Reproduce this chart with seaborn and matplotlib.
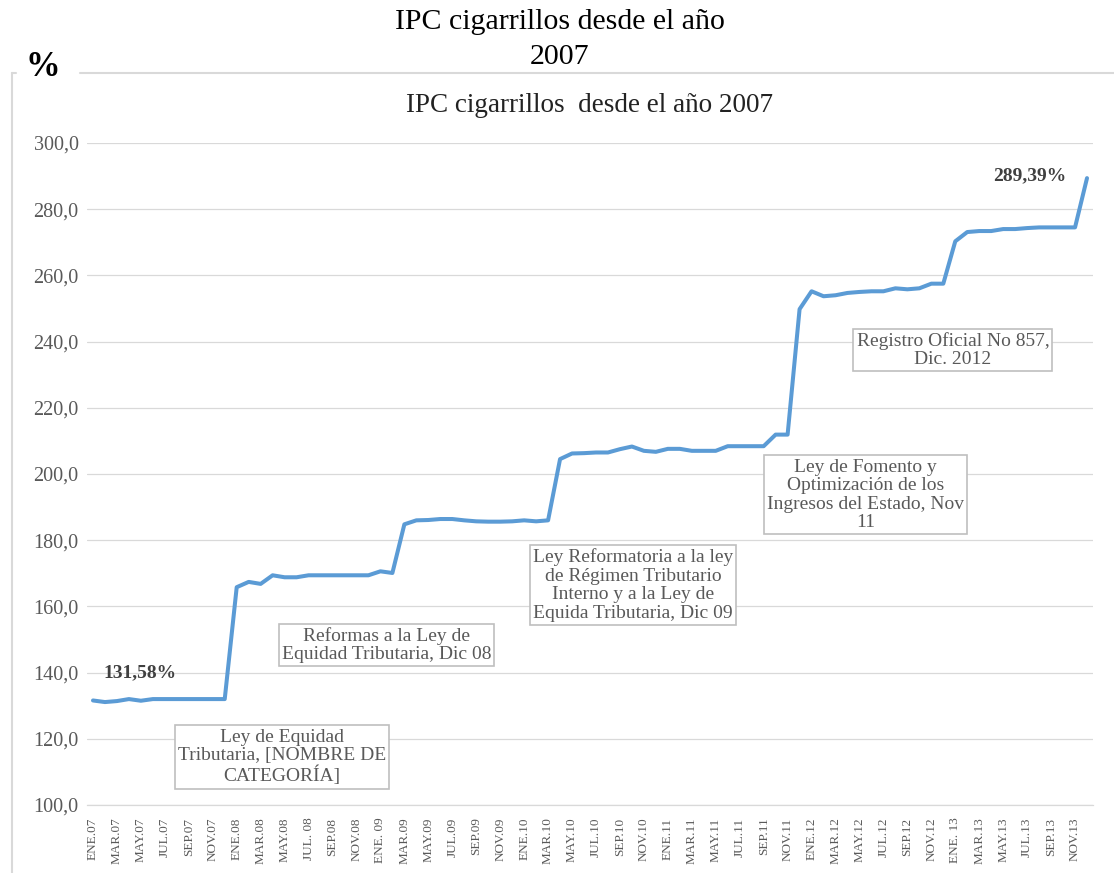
import numpy as np
import matplotlib
matplotlib.use("Agg")
import matplotlib.pyplot as plt
from matplotlib.lines import Line2D
import pandas as pd
import seaborn as sns

# IPC cigarrillos, mensual ENE.07 - DIC.13
ipc = [131.58, 131.1, 131.4, 132.0, 131.5, 132.0, 132.0, 132.0, 132.0, 132.0, 132.0, 132.0,
       165.8, 167.4, 166.8, 169.4, 168.8, 168.8, 169.4, 169.4, 169.4, 169.4, 169.4, 169.4,
       170.6, 170.1, 184.8, 186.0, 186.1, 186.4, 186.4, 186.0, 185.7, 185.6, 185.6, 185.7,
       186.0, 185.7, 186.0, 204.5, 206.2, 206.3, 206.5, 206.5, 207.5, 208.3, 207.0, 206.7,
       207.6, 207.6, 207.0, 207.0, 207.0, 208.4, 208.4, 208.4, 208.4, 211.9, 211.9, 249.8,
       255.2, 253.7, 254.0, 254.7, 255.0, 255.2, 255.2, 256.1, 255.8, 256.1, 257.5, 257.5,
       270.3, 273.1, 273.4, 273.4, 274.0, 274.0, 274.3, 274.5, 274.5, 274.5, 274.5, 289.39]

xlabels = ["ENE.07", "MAR.07", "MAY.07", "JUL.07", "SEP.07", "NOV.07",
           "ENE.08", "MAR.08", "MAY.08", "JUL. 08", "SEP.08", "NOV.08",
           "ENE. 09", "MAR.09", "MAY.09", "JUL.09", "SEP.09", "NOV.09",
           "ENE.10", "MAR.10", "MAY.10", "JUL.10", "SEP.10", "NOV.10",
           "ENE.11", "MAR.11", "MAY.11", "JUL.11", "SEP.11", "NOV.11",
           "ENE.12", "MAR.12", "MAY.12", "JUL.12", "SEP.12", "NOV.12",
           "ENE. 13", "MAR.13", "MAY.13", "JUL.13", "SEP.13", "NOV.13"]

yticks = [100, 120, 140, 160, 180, 200, 220, 240, 260, 280, 300]

# hitos tributarios (texto, mes, valor)
notas = ["Ley de Equidad\nTributaria, [NOMBRE DE\nCATEGORÍA]",
         "Reformas a la Ley de\nEquidad Tributaria, Dic 08",
         "Ley Reformatoria a la ley\nde Régimen Tributario\nInterno y a la Ley de\nEquida Tributaria, Dic 09",
         "Ley de Fomento y\nOptimización de los\nIngresos del Estado, Nov\n11",
         "Registro Oficial No 857,\nDic. 2012"]
notas_x = [15.8, 24.5, 45.1, 64.5, 71.8]
notas_y = [114.5, 148.3, 166.5, 193.7, 237.5]

df = pd.DataFrame({"mes": np.arange(len(ipc)), "ipc": ipc})

sns.set_style("white")
plt.rcParams["font.family"] = ["Liberation Serif", "DejaVu Serif"]

fig = plt.figure(figsize=(11.14, 8.73), dpi=100)
ax = fig.add_axes([87/1114, 1-805/873, (1093-87)/1114, (805-143)/873])

sns.lineplot(data=df, x="mes", y="ipc", ax=ax, color="#5B9BD5", linewidth=2.9)

ax.set_xlim(-0.5, len(ipc)-0.5)
ax.set_ylim(100, 300)
ax.set_yticks(yticks)
ax.set_yticklabels([f"{v:.1f}".replace(".", ",") for v in yticks], color="#595959", fontsize=14.5)
ax.set_xticks(np.arange(0, len(ipc), 2))
ax.set_xticklabels(xlabels, rotation=90, color="#595959", fontsize=9.5)
ax.tick_params(axis="y", length=0, pad=6)
ax.tick_params(axis="x", length=0, pad=9)
ax.set_xlabel("")
ax.set_ylabel("")
ax.grid(axis="y", color="#d9d9d9", linewidth=0.9)
ax.set_axisbelow(True)
for s in ["top", "right", "left"]:
    ax.spines[s].set_visible(False)
ax.spines["bottom"].set_color("#d9d9d9")
ax.spines["bottom"].set_linewidth(0.9)

for t, x, y in zip(notas, notas_x, notas_y):
    ax.text(x, y, t, ha="center", va="center", fontsize=14, color="#595959",
            linespacing=1.12,
            bbox=dict(boxstyle="square,pad=0.16", facecolor="white", edgecolor="#bfbfbf", linewidth=1.2))

ax.text(3.9, 139.9, "131,58%", ha="center", va="center", fontsize=14,
        fontweight="bold", color="#404040")
ax.text(78.2, 290.0, "289,39%", ha="center", va="center", fontsize=14,
        fontweight="bold", color="#404040")

ax.set_title("IPC cigarrillos  desde el año 2007", fontsize=19.5, color="#222222", pad=22)

# marco exterior del gráfico
fig.add_artist(Line2D([12/1114, 12/1114], [0, 1-73/873], color="#d9d9d9", linewidth=1.5))
fig.add_artist(Line2D([12/1114, 16/1114], [1-73/873, 1-73/873], color="#d9d9d9", linewidth=1.5))
fig.add_artist(Line2D([80/1114, 1], [1-73/873, 1-73/873], color="#d9d9d9", linewidth=1.5))

fig.text(43/1114, 1-68/873, "%", ha="center", va="center", fontsize=25, fontweight="bold", color="black")
fig.text(560/1114, 1-22/873, "IPC cigarrillos desde el año", ha="center", va="center", fontsize=21.5, color="black")
fig.text(560/1114, 1-57/873, "2007", ha="center", va="center", fontsize=21.5, color="black")

fig.savefig("out.png", dpi=100)
